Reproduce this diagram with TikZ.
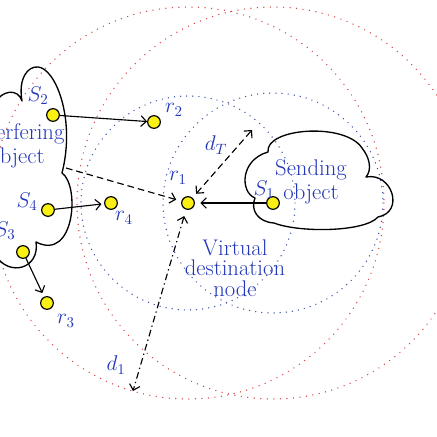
\RequirePackage{fix-cm}
\documentclass[tikz,border=0pt]{standalone}
\usepackage{tikz}
\usepackage{amsmath}
\usepackage{xcolor}
\usetikzlibrary{arrows.meta}

\begin{document}
\begin{tikzpicture}[x=0.75pt,y=0.75pt,yscale=-1,xscale=1,
	sensor/.style={circle,draw=black,fill={rgb, 255:red, 250; green, 240; blue, 20 },line width=0.9pt,minimum size=9.5pt,inner sep=0pt},
	lbl/.style={text={rgb, 255:red, 35; green, 55; blue, 185 },inner sep=0.75pt,font=\fontsize{16}{16}\selectfont},
	txt/.style={lbl,align=center},
	link/.style={line width=0.85pt,-{Straight Barb[length=4pt,width=8pt]}},
	both/.style={line width=0.85pt,{Straight Barb[length=4pt,width=8pt]}-{Straight Barb[length=4pt,width=8pt]}},
	dashes/.style={dash pattern=on 5pt off 3pt},
	dashdots/.style={dash pattern=on 5pt off 2.5pt on 1pt off 2.5pt},
	reddots/.style={color={rgb, 255:red, 215; green, 70; blue, 70 },line width=1.1pt,line cap=round,dash pattern=on 0pt off 4.9pt},
	bluedots/.style={color={rgb, 255:red, 60; green, 80; blue, 170 },line width=1.1pt,line cap=round,dash pattern=on 0pt off 4.6pt},
	cloudline/.style={line width=1pt,line join=round}]
	\useasboundingbox (0,0) rectangle (437,437);
	
	%Shape: Circle [radius d_1 round r_1] 
	\draw [reddots] (188,203) circle [radius=196];
	%Shape: Circle [radius d_1 round S_1] 
	\draw [reddots] (273,203) circle [radius=196];
	%Shape: Circle [radius d_T round r_1] 
	\draw [bluedots] (188,203) circle [radius=107];
	%Shape: Circle [radius d_T round S_1] 
	\draw [bluedots] (273,203) circle [radius=110];
	
	%Shape: Cloud [interfering object] 
	\draw [cloudline] (-5,103) .. controls (2,90) and (18,88) .. (22,101) .. controls (18,78) and (28,66) .. (38,67) .. controls (55,68) and (76,118) .. (62,173) .. controls (80,185) and (75,262) .. (36,242) .. controls (40,268) and (10,278) .. (-5,255) ;
	%Shape: Cloud [sending object] 
	\draw [cloudline] (268,152) .. controls (265,128) and (345,122) .. (362,148) .. controls (370,158) and (372,170) .. (366,177) .. controls (392,172) and (405,212) .. (378,217) .. controls (365,232) and (300,233) .. (274,223) .. controls (258,222) and (250,210) .. (255,198) .. controls (240,192) and (240,160) .. (268,152) -- cycle ;
	
	% Sensor nodes
	\node (S1) at (273,203) [sensor] {};
	\node (S2) at (53,115) [sensor] {};
	\node (S3) at (23,252) [sensor] {};
	\node (S4) at (48,210) [sensor] {};
	\node (r1) at (188,203) [sensor] {};
	\node (r2) at (154,122) [sensor] {};
	\node (r3) at (47,303) [sensor] {};
	\node (r4) at (111,203) [sensor] {};
	\coordinate (ifr) at (66,168);
	\coordinate (dT) at (252,130);
	\coordinate (d1) at (133,391);
	
	% Links
	\draw [link] (S2) -- (r2);
	\draw [link,shorten >=2pt] (S4) -- (r4);
	\draw [link,shorten >=3pt] (S3) -- (r3);
	\draw [link,shorten >=4pt] (S1) -- (r1);
	\draw [link,dashes,shorten >=4pt] (ifr) -- (r1);
	\draw [both,dashes,shorten <=4pt] (r1) -- (dT);
	\draw [both,dashdots,shorten <=5pt] (r1) -- (d1);
	
	% Text Node
	\draw (17,146) node (tIfr) [txt,font=\fontsize{17}{17.5}\selectfont] {Interfering\\object};
	% Text Node
	\draw (311,182) node (tSend) [txt,font=\fontsize{17}{18.5}\selectfont] {Sending\\object};
	% Text Node
	\draw (235,268) node (tVirt) [txt,font=\fontsize{17}{15.5}\selectfont] {Virtual\\destination\\node};
	% Text Node
	\draw (264,190) node (lS1) [lbl] {$S_1$};
	% Text Node
	\draw (38,96) node (lS2) [lbl] {$S_2$};
	% Text Node
	\draw (5,231) node (lS3) [lbl] {$S_3$};
	% Text Node
	\draw (27,202) node (lS4) [lbl] {$S_4$};
	% Text Node
	\draw (178,178) node (lr1) [lbl] {$r_1$};
	% Text Node
	\draw (174,110) node (lr2) [lbl] {$r_2$};
	% Text Node
	\draw (66,321) node (lr3) [lbl] {$r_3$};
	% Text Node
	\draw (124,218) node (lr4) [lbl] {$r_4$};
	% Text Node
	\draw (216,145) node (ldT) [lbl] {$d_T$};
	% Text Node
	\draw (116,365) node (ld1) [lbl] {$d_1$};
	
\end{tikzpicture}
\end{document}
